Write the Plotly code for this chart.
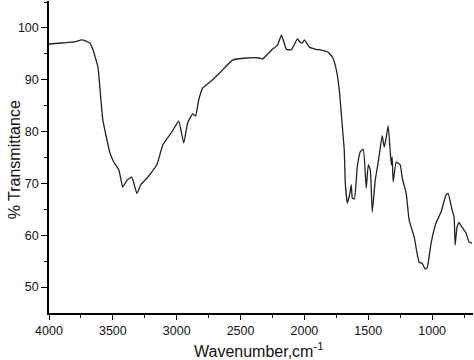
import plotly.graph_objects as go

wavenumber = [4000, 3900, 3800, 3742, 3680, 3656, 3617, 3600, 3578, 3523, 3492, 3453,
              3422, 3390, 3352, 3312, 3280, 3234, 3156, 3109, 3039, 2984, 2945, 2914,
              2875, 2852, 2828, 2797, 2719, 2664, 2563, 2453, 2352, 2328, 2250, 2211,
              2180, 2141, 2102, 2055, 2035, 2016, 2000, 1961, 1898, 1883, 1820, 1781,
              1750, 1727, 1703, 1688, 1680, 1664, 1645, 1633, 1625, 1609, 1586, 1563,
              1539, 1516, 1500, 1484, 1469, 1445, 1422, 1391, 1375, 1359, 1344, 1320,
              1313, 1305, 1281, 1250, 1234, 1203, 1180, 1141, 1102, 1078, 1055, 1039,
              1008, 969, 930, 891, 875, 844, 828, 820, 805, 789, 773, 734, 711, 688]
transmittance = [96.9, 97.1, 97.3, 97.7, 97.1, 95.8, 92.5, 88.0, 82.2, 75.9, 74.1, 72.6,
                 69.3, 70.6, 71.2, 68.1, 69.8, 71.0, 73.6, 77.4, 79.9, 82.0, 77.8, 81.7,
                 83.4, 83.0, 86.1, 88.4, 90.0, 91.3, 93.8, 94.2, 94.2, 94.0, 95.9, 96.7,
                 98.6, 95.9, 95.8, 97.9, 97.3, 97.1, 97.7, 96.3, 95.8, 95.8, 95.4, 94.4,
                 91.9, 88.0, 81.0, 76.4, 70.1, 66.2, 68.0, 69.7, 67.2, 67.0, 73.2, 76.1,
                 76.6, 69.1, 73.6, 72.6, 64.5, 70.7, 74.1, 79.2, 77.0, 79.0, 81.1, 73.6,
                 75.1, 70.3, 74.1, 73.6, 71.0, 68.1, 62.9, 59.7, 54.8, 54.6, 53.5, 53.7,
                 58.5, 62.4, 64.5, 67.8, 68.1, 64.9, 63.5, 58.1, 61.6, 62.5, 61.8, 60.4,
                 58.7, 58.5]

x_ticks = [4000, 3500, 3000, 2500, 2000, 1500, 1000]
y_ticks = [50, 60, 70, 80, 90, 100]

fig = go.Figure()
fig.add_trace(go.Scatter(x=wavenumber, y=transmittance, mode="lines",
                         line=dict(color="#222222", width=1.3, shape="spline", smoothing=0.4),
                         hoverinfo="skip", showlegend=False))

font = dict(family="Liberation Sans, Arial, sans-serif", color="#111111")

fig.update_layout(
    width=474, height=360,
    margin=dict(l=49, r=1, t=1, b=47),
    paper_bgcolor="white", plot_bgcolor="white",
    font=dict(**font, size=12),
    showlegend=False,
    xaxis=dict(range=[4000, 680], tickvals=x_ticks, ticktext=[str(v) for v in x_ticks],
               showgrid=False, zeroline=False, showline=True, linecolor="black", linewidth=1.5,
               ticks="outside", ticklen=5, tickwidth=1.2, tickcolor="black",
               tickfont=dict(**font, size=12.5),
               minor=dict(tickvals=[3750, 3250, 2750, 2250, 1750, 1250, 750],
                          ticks="outside", ticklen=3, tickwidth=1.2, tickcolor="black")),
    yaxis=dict(range=[45, 105.2], tickvals=y_ticks, ticktext=[str(v) for v in y_ticks],
               showgrid=False, zeroline=False, showline=True, linecolor="black", linewidth=1.5,
               ticks="outside", ticklen=6, tickwidth=1.2, tickcolor="black",
               tickfont=dict(**font, size=12.5),
               minor=dict(tickvals=[55, 65, 75, 85, 95, 105],
                          ticks="outside", ticklen=3, tickwidth=1.2, tickcolor="black")),
    annotations=[
        dict(text="Wavenumber,cm<sup>-1</sup>", xref="paper", yref="paper",
             x=0.493, y=-0.118, xanchor="center", yanchor="middle", showarrow=False,
             font=dict(**font, size=16)),
        dict(text="% Transmittance", xref="paper", yref="paper",
             x=-0.082, y=0.49, xanchor="center", yanchor="middle", showarrow=False,
             textangle=-90, font=dict(**font, size=16)),
    ],
)

fig.write_html("out.html")
